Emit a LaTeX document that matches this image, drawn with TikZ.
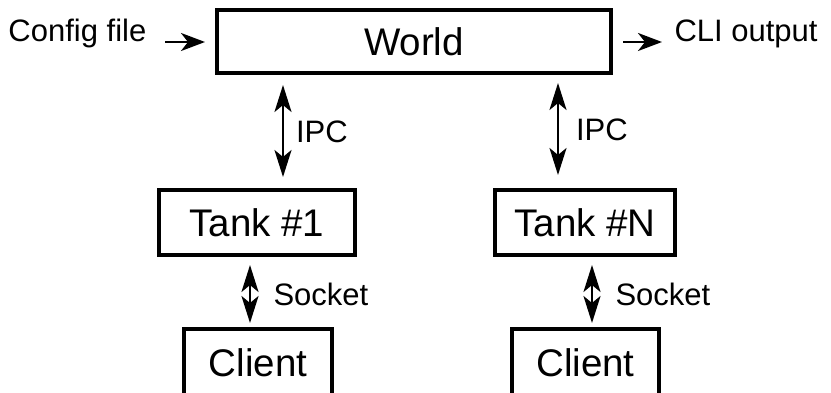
\documentclass[tikz,border=0pt]{standalone}
\usepackage{fontspec}
\setmainfont{Liberation Sans}
\usetikzlibrary{arrows.meta}
\newcommand{\bigtext}{\fontsize{38.5}{44}\selectfont}
\newcommand{\smalltext}{\fontsize{31}{36}\selectfont}
\tikzset{
  box/.style={draw, line width=3.4pt, inner sep=0pt, outer sep=0pt, font=\bigtext},
  link/.style={line width=2.6pt, {Stealth[length=27pt,width=17pt,inset=7pt]}-{Stealth[length=27pt,width=17pt,inset=7pt]}},
  feed/.style={line width=2.6pt, -{Stealth[length=24pt,width=18pt,inset=7pt]}}
  }
\tikzstyle{tag}=[inner sep=0pt, outer sep=0pt, font=\smalltext]

\begin{document}
\begin{tikzpicture}[x=1pt,y=1pt]
   \useasboundingbox (0,0) rectangle (831,392);
   \clip (0,0) rectangle (831,392);

   \node[box, minimum width=394pt, minimum height=63pt] (world) at (414,350.5) {World};
   \node[box, minimum width=196pt, minimum height=65pt] (tank1) at (257,169.5) {Tank \#1};
   \node[box, minimum width=180pt, minimum height=65pt] (tankN) at (585,169.5) {Tank \#N};
   % clients run off the bottom edge
   \node[box, minimum width=148pt, minimum height=67pt] (client1) at (258,29.5) {Client};
   \node[box, minimum width=147pt, minimum height=67pt] (clientN) at (585.5,29.5) {Client};

   \node[tag, anchor=base west] (config) at (8.5,350) {Config file};
   \node[tag, anchor=base west] (cli) at (674.5,350) {CLI output};

   % arrows sit beside the box centres, not on them
   \coordinate (ipcA) at ([xshift=26pt]tank1.north);
   \coordinate (ipcB) at ([xshift=-27pt]tankN.north);
   \coordinate (sockA) at ([xshift=-7pt]tank1.south);
   \coordinate (sockB) at ([xshift=7pt]tankN.south);

   \draw[feed, shorten <=19pt, shorten >=12pt] (config.base east) -- (config.base east -| world.west);
   \draw[feed, shorten <=12pt, shorten >=12.5pt] (world.east |- cli.base west) -- (cli.base west);

   \draw[link, shorten <=12pt, shorten >=13pt] (world.south -| ipcA) -- (ipcA)
      node[tag, midway, anchor=west, xshift=13pt] {IPC};
   \draw[link, shorten <=10pt, shorten >=15pt] (world.south -| ipcB) -- (ipcB)
      node[tag, midway, anchor=west, xshift=18pt, yshift=2pt] {IPC};

   \draw[link, shorten <=10pt, shorten >=6pt] (sockA) -- (sockA |- client1.north)
      node[tag, midway, anchor=west, xshift=23.5pt, yshift=-2pt] {Socket};
   \draw[link, shorten <=10pt, shorten >=6pt] (sockB) -- (sockB |- clientN.north)
      node[tag, midway, anchor=west, xshift=23.5pt, yshift=-2pt] {Socket};
\end{tikzpicture}
\end{document}
